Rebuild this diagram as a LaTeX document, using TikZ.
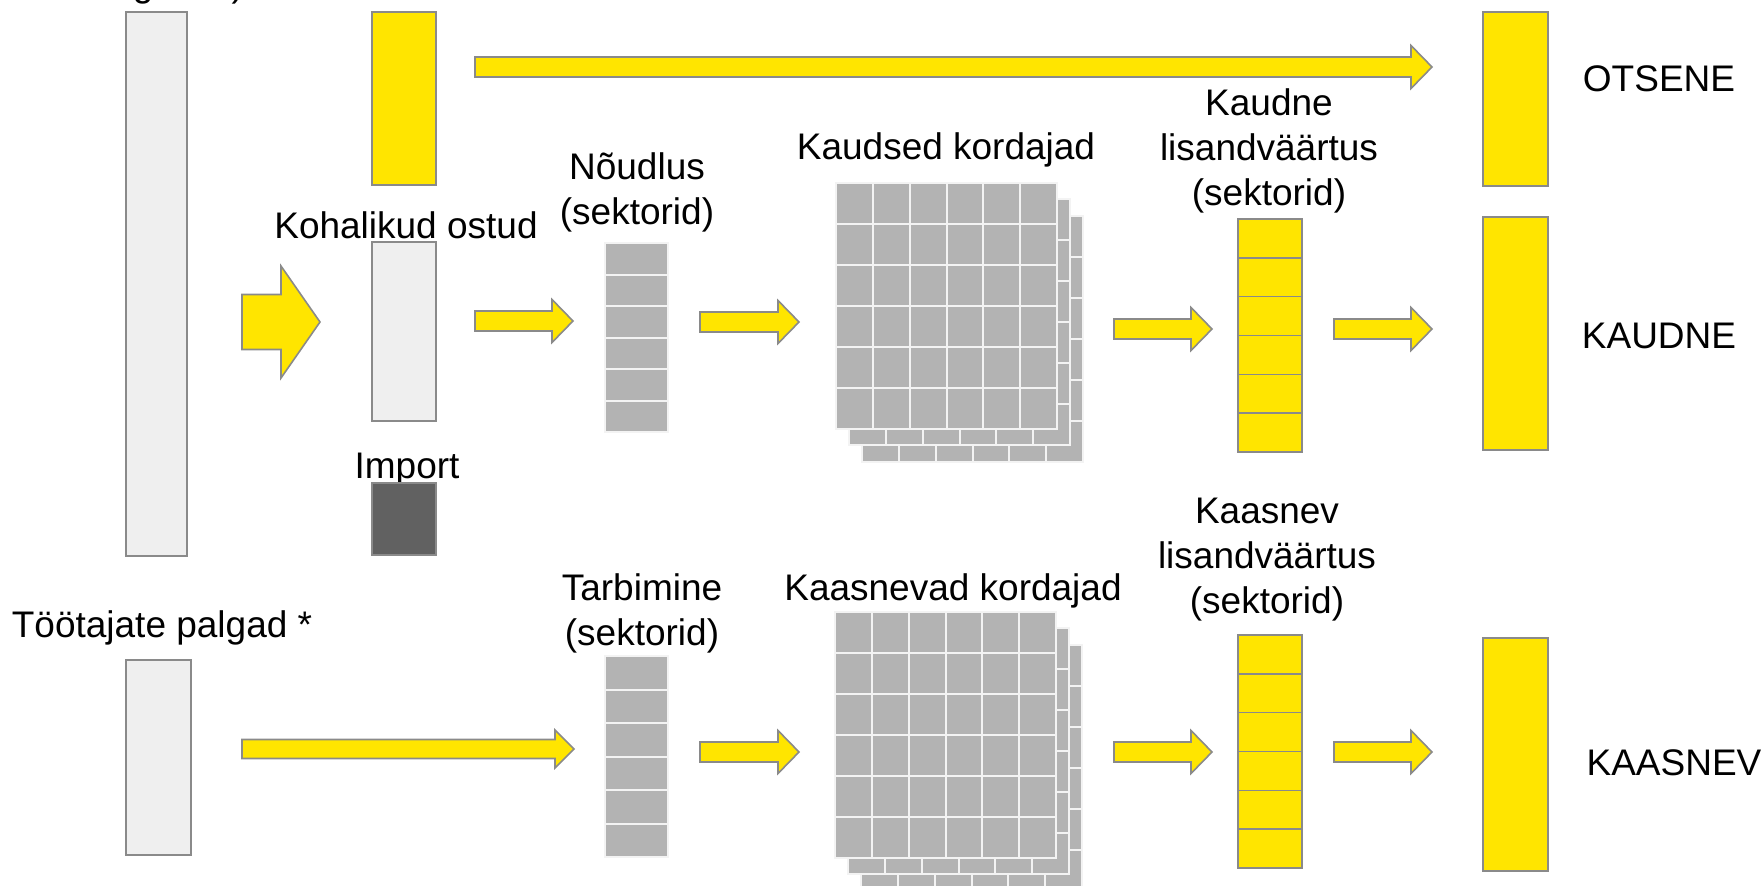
\documentclass[tikz,border=0pt]{standalone}
\usepackage{xcolor}
\usepackage{fontspec}
\setmainfont{Liberation Sans}
\usepackage{tikz}
\usetikzlibrary{positioning, calc, fit}

\definecolor{kollane}{HTML}{FFE500}
\definecolor{raam}{HTML}{8A8A8A}
\definecolor{hele}{HTML}{EFEFEF}
\definecolor{sektor}{HTML}{B3B3B3}
\definecolor{tume}{HTML}{616161}
\definecolor{joon}{HTML}{F3F3F3}

\tikzset{
  tulp/.style={draw=raam, line width=1.6pt, inner sep=0pt, outer sep=0pt},
  heletulp/.style={tulp, fill=hele},
  kollanetulp/.style={tulp, fill=kollane},
  tumetulp/.style={tulp, fill=tume},
  hallveerg/.style={draw=joon, line width=2pt, fill=sektor, inner sep=0pt, outer sep=0pt},
  hallkriips/.style={draw=joon, line width=2pt},
  kollanekriips/.style={draw=raam, line width=1.6pt},
  noolestiil/.style={fill=kollane, draw=raam, line width=1.6pt, line join=miter},
  silt/.style={font=\fontsize{37}{45}\selectfont, inner sep=0pt, outer sep=0pt},
  silt2/.style={silt, align=center}
}

% block arrow: start x, tip x, centre y, shaft half, head half, head length
\newcommand{\plokknool}[6]{%
  \filldraw[noolestiil] (#1,#3-#4) -- (#2-#6,#3-#4) -- (#2-#6,#3-#5) -- (#2,#3)
      -- (#2-#6,#3+#5) -- (#2-#6,#3+#4) -- (#1,#3+#4) -- cycle;}
\newcommand{\nool}[3]{\plokknool{#1}{#2}{#3}{10}{21.5}{21}}

% column of six sectors: name, x1, y1, x2, y2, box style, line style
\newcommand{\sektorid}[7]{%
  \node[#6, fit={(#2,#3) (#4,#5)}] (#1) {};
  \foreach \k in {1,...,5}
    \draw[#7] ($(#1.north west)!\k/6!(#1.south west)$) -- ($(#1.north east)!\k/6!(#1.south east)$);}

% three stacked 6x6 layers: name, left x, top y
\newcommand{\maatriks}[3]{%
  \foreach \dx/\dy/\osa in {26/33/c, 13/16/b, 0/0/a} {
    \node[hallveerg, fit={(#2+\dx,#3+\dy) (#2+\dx+221,#3+\dy+246)}] (#1\osa) {};
    \foreach \k in {1,...,5} {
      \draw[hallkriips] ($(#1\osa.north west)!\k/6!(#1\osa.south west)$) -- ($(#1\osa.north east)!\k/6!(#1\osa.south east)$);
      \draw[hallkriips] ($(#1\osa.north west)!\k/6!(#1\osa.north east)$) -- ($(#1\osa.south west)!\k/6!(#1\osa.south east)$);
    }
  }}

\begin{document}
\begin{tikzpicture}[x=1pt, y=-1pt]
      \useasboundingbox (0,0) rectangle (1764,886); % page size of the reference

      % left side
      \node[silt, anchor=base west] (kaivesilt) at (102,-3) {tegevus)};
      \node[heletulp, fit={(126,12) (187,556)}] (kaive) {};
      \node[silt, anchor=base] (palgadsilt) at (162,637) {Töötajate palgad *};
      \node[heletulp, fit={(126,660) (191,855)}] (palgad) {};

      \node[kollanetulp, fit={(372,12) (436,185)}] (otseallikas) {};
      \node[silt, anchor=base] (ostudsilt) at (406,238) {Kohalikud ostud};
      \node[heletulp, fit={(372,242) (436,421)}] (ostud) {};
      \node[silt, anchor=base] (importsilt) at (407,478) {Import};
      \node[tumetulp, fit={(372,483) (436,555)}] (import) {};

      % demand and multipliers
      \node[silt2, anchor=south] (noudlussilt) at (637,232) {Nõudlus\\(sektorid)};
      \sektorid{noudlus}{605}{243}{668}{432}{hallveerg}{hallkriips}
      \node[silt2, anchor=south] (tarbiminesilt) at (642,653) {Tarbimine\\(sektorid)};
      \sektorid{tarbimine}{605}{656}{668}{857}{hallveerg}{hallkriips}

      \node[silt, anchor=base] (kaudsedsilt) at (946,159) {Kaudsed kordajad};
      \maatriks{kaudsed}{836}{183}
      \node[silt, anchor=base] (kaasnevadsilt) at (953,600) {Kaasnevad kordajad};
      \maatriks{kaasnevad}{835}{612}

      % value added by sector
      \node[silt2, anchor=south] (kaudnesilt) at (1269,213) {Kaudne\\lisandväärtus\\(sektorid)};
      \sektorid{kaudneveerg}{1238}{219}{1302}{452}{kollanetulp}{kollanekriips}
      \node[silt2, anchor=south] (kaasnevsilt) at (1267,621) {Kaasnev\\lisandväärtus\\(sektorid)};
      \sektorid{kaasnevveerg}{1238}{635}{1302}{868}{kollanetulp}{kollanekriips}

      % results
      \node[kollanetulp, fit={(1483,12) (1548,186)}] (otsene) {};
      \node[kollanetulp, fit={(1483,217) (1548,450)}] (kaudne) {};
      \node[kollanetulp, fit={(1483,638) (1548,871)}] (kaasnev) {};
      \node[silt, anchor=base] (otsenesilt) at (1659,91) {OTSENE};
      \node[silt, anchor=base] (kaudnetulem) at (1659,348) {KAUDNE};
      \node[silt, anchor=base] (kaasnevtulem) at (1674,775) {KAASNEV};

      % arrows
      \plokknool{475}{1432}{67}{10}{21.5}{21}
      \plokknool{242}{320}{322}{27.5}{56}{39} % the fat one
      \nool{475}{573}{321}
      \nool{700}{799}{322}
      \nool{1114}{1212}{329}
      \nool{1334}{1432}{329}
      \plokknool{242}{574}{749}{9.5}{19}{19}
      \nool{700}{799}{752}
      \nool{1114}{1212}{752}
      \nool{1334}{1432}{752}
  \end{tikzpicture}
\end{document}
